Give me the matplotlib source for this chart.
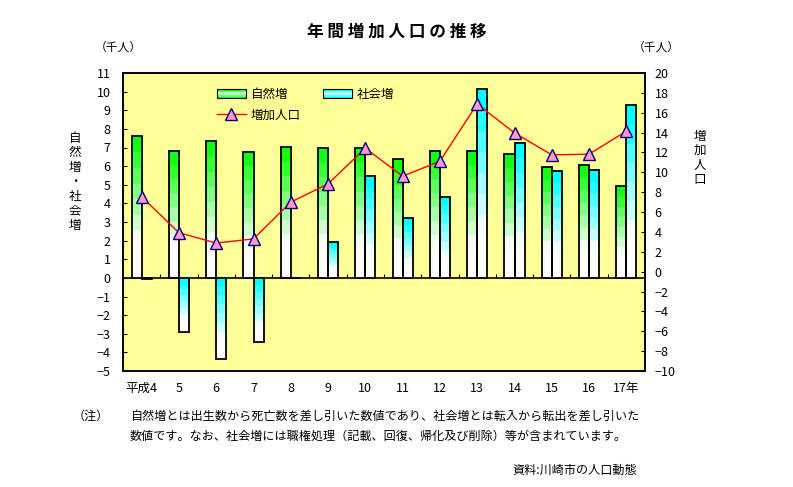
import matplotlib
matplotlib.use("Agg")
import matplotlib.pyplot as plt
from matplotlib.patches import Rectangle
from matplotlib.legend_handler import HandlerBase
from matplotlib.colors import LinearSegmentedColormap
import numpy as np

plt.rcParams['font.family'] = ['Noto Sans CJK JP', 'DejaVu Sans']

# data (千人)
years = ["平成4", "5", "6", "7", "8", "9", "10", "11", "12", "13", "14", "15", "16", "17年"]
natural = [7.60, 6.82, 7.35, 6.74, 7.01, 6.96, 6.96, 6.38, 6.82, 6.82, 6.64, 5.94, 6.05, 4.92]
social = [-0.05, -2.93, -4.38, -3.42, 0.0, 1.91, 5.46, 3.20, 4.35, 10.13, 7.25, 5.72, 5.80, 9.28]
increase = [7.54, 3.92, 2.88, 3.30, 7.00, 8.84, 12.43, 9.61, 11.12, 16.88, 13.97, 11.76, 11.83, 14.14]

BG = "#FFFF99"
GREEN = "#11FF11"
CYAN = "#00FFFF"
N_STEPS = 9


def step_cmap(top):
    # white for the lower part, then banded fade to the top colour
    cm = LinearSegmentedColormap.from_list("g", [(0, "white"), (0.22, "white"), (1, top)])
    return cm


def fill_gradient(ax, bar, cmap):
    x, w = bar.get_x(), bar.get_width()
    y0 = min(bar.get_y(), bar.get_y() + bar.get_height())
    y1 = max(bar.get_y(), bar.get_y() + bar.get_height())
    if y1 - y0 <= 0:
        return
    grad = np.floor(np.linspace(0, 1, 200) * N_STEPS) / (N_STEPS - 1)
    grad = np.clip(grad, 0, 1).reshape(-1, 1)
    ax.imshow(grad, extent=(x, x + w, y0, y1), origin="lower", cmap=cmap,
              vmin=0, vmax=1, aspect="auto", interpolation="nearest", zorder=2)


class GradientHandler(HandlerBase):
    def __init__(self, cmap):
        super().__init__()
        self.cmap = cmap

    def create_artists(self, legend, orig_handle, xdescent, ydescent,
                       width, height, fontsize, trans):
        arts = []
        n = 6
        for i in range(n):
            t = 1 - i / (n - 1)
            c = self.cmap(0.3 + 0.7 * abs(t - 0.5) * 2)
            r = Rectangle((-xdescent, -ydescent + height * (n - 1 - i) / n), width, height / n,
                          facecolor=c, edgecolor="none", transform=trans)
            arts.append(r)
        arts.append(Rectangle((-xdescent, -ydescent), width, height, facecolor="none",
                              edgecolor="black", lw=0.8, transform=trans))
        return arts


fig = plt.figure(figsize=(7.93, 4.87), dpi=100)
ax = fig.add_axes([123 / 793, 116 / 487, 522 / 793, 298 / 487])
ax.set_facecolor(BG)

x = np.arange(len(years)) + 0.5
bw = 0.27
gcm = step_cmap(GREEN)
ccm = step_cmap(CYAN)

nat_bars = ax.bar(x - bw / 2, natural, bw, facecolor="none", edgecolor="black", lw=1.3, zorder=3)
soc_bars = ax.bar(x + bw / 2, social, bw, facecolor="none", edgecolor="black", lw=1.3, zorder=3)
for b in nat_bars:
    fill_gradient(ax, b, gcm)
for b in soc_bars:
    fill_gradient(ax, b, ccm)

ax.set_xlim(0, len(years))
ax.set_ylim(-5, 11)
ax.set_yticks(np.arange(-5, 12, 1))
ax.tick_params(axis="y", direction="in", length=3, pad=9, labelsize=9)
ax.set_xticks(x, years)
ax.tick_params(axis="x", length=0, pad=8, labelsize=9)
for s in ax.spines.values():
    s.set_linewidth(1.2)

# zero line with category boundary ticks
zero = ax.secondary_xaxis(5 / 16)
zero.set_xticks(np.arange(1, len(years)))
zero.tick_params(direction="in", length=3, labelbottom=False, labeltop=False, width=0.8)
zero.spines["bottom"].set_linewidth(1.2)

ax2 = ax.twinx()
ax2.set_ylim(-10, 20)
ax2.set_yticks(np.arange(-10, 21, 2))
ax2.tick_params(axis="y", direction="in", length=3, pad=7, labelsize=9)
line, = ax2.plot(x, increase, color="red", lw=1, marker="^", markersize=9,
                 markerfacecolor="#FF99CC", markeredgecolor="#000080", markeredgewidth=1)
for s in ax2.spines.values():
    s.set_linewidth(1.2)

handles = [Rectangle((0, 0), 1, 1), line, Rectangle((0, 0), 1, 1)]
labels = ["自然増", "増加人口", "社会増"]
leg = fig.legend(handles, labels, ncol=2, loc="upper left",
                 bbox_to_anchor=(217 / 793, 1 - 88 / 487), frameon=False,
                 fontsize=9, handlelength=2.3, handletextpad=0.4,
                 columnspacing=1.8, labelspacing=0.6, borderpad=0, borderaxespad=0,
                 handler_map={handles[0]: GradientHandler(gcm), handles[2]: GradientHandler(ccm)})

fig.text(397 / 793, 1 - 32 / 487, " ".join("年間増加人口の推移"), ha="center", va="center",
         fontsize=12, fontweight="bold")
fig.text(118 / 793, 1 - 47 / 487, "（千人）", ha="center", va="center", fontsize=8.5)
fig.text(656 / 793, 1 - 47 / 487, "（千人）", ha="center", va="center", fontsize=8.5)
fig.text(75 / 793, 1 - 182 / 487, "\n".join("自然増・社会増"), ha="center", va="center",
         fontsize=9, linespacing=1.15)
fig.text(700 / 793, 1 - 158 / 487, "\n".join("増加人口"), ha="center", va="center",
         fontsize=9, linespacing=1.15)

fig.text(73 / 793, 1 - 416 / 487, "（注）", ha="left", va="center", fontsize=8.7)
fig.text(130 / 793, 1 - 416 / 487,
         "自然増とは出生数から死亡数を差し引いた数値であり、社会増とは転入から転出を差し引いた",
         ha="left", va="center", fontsize=8.7)
fig.text(130 / 793, 1 - 436 / 487,
         "数値です。なお、社会増には職権処理（記載、回復、帰化及び削除）等が含まれています。",
         ha="left", va="center", fontsize=8.7)
fig.text(637 / 793, 1 - 470 / 487, "資料:川崎市の人口動態", ha="right", va="center", fontsize=8.7)

fig.savefig("out.png", dpi=100)
